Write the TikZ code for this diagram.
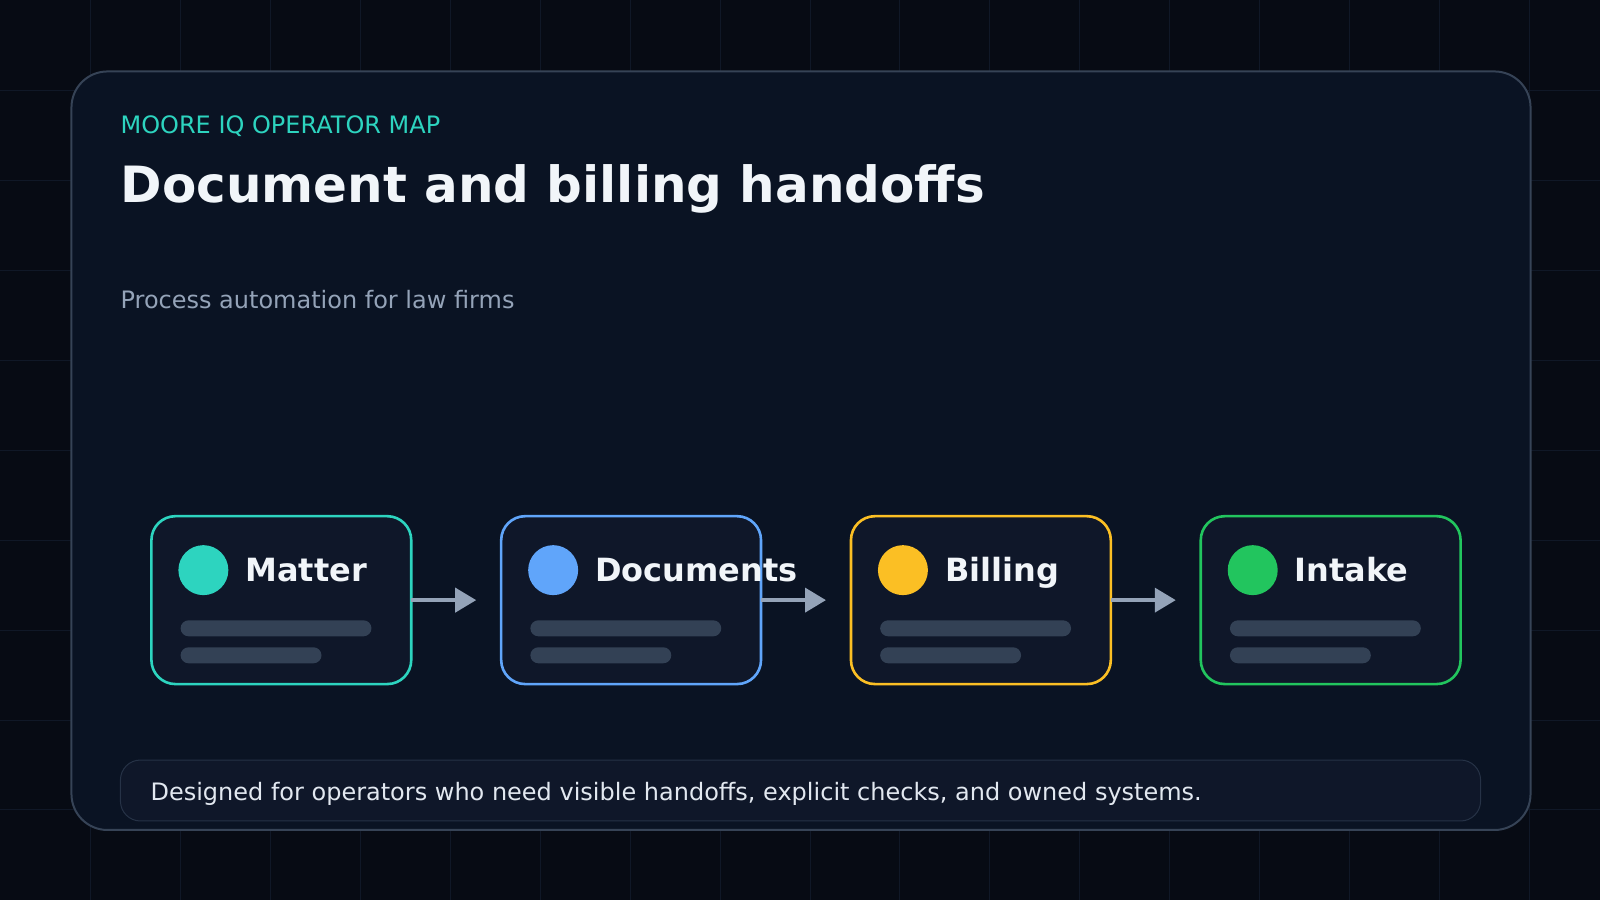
\documentclass[tikz,border=0pt]{standalone}
\usepackage{fontspec}
\setmainfont{DejaVu Sans}
\usetikzlibrary{positioning, calc, arrows.meta}
\definecolor{pagebg}{HTML}{070B14}
\definecolor{gridln}{HTML}{101827}
\definecolor{cardbg}{HTML}{0A1323}
\definecolor{cardln}{HTML}{364356}
\definecolor{stepbg}{HTML}{0F1729}
\definecolor{barfill}{HTML}{334155}
\definecolor{flowln}{HTML}{94A3B8}
\definecolor{notebg}{HTML}{0F1729}
\definecolor{noteln}{HTML}{263246}
\definecolor{titletx}{HTML}{F1F5F9}
\definecolor{notetx}{HTML}{E2E8F0}
\definecolor{subtx}{HTML}{94A3B8}
\definecolor{cteal}{HTML}{2DD4BF}
\definecolor{cblue}{HTML}{60A5FA}
\definecolor{camber}{HTML}{FBBF24}
\definecolor{cgreen}{HTML}{22C55E}
\newcommand{\fsz}[1]{\fontsize{#1}{#1}\selectfont}

\begin{document}
\begin{tikzpicture}[
		x=1pt, y=-1pt,
		stepbox/.style = {rectangle, rounded corners=24pt, line width=2.6pt, draw=#1, fill=stepbg, minimum width=260pt, minimum height=168pt, inner sep=0pt, outer sep=0pt},
		dot/.style = {circle, fill=#1, minimum size=50pt, inner sep=0pt},
		steplabel/.style = {anchor=base west, inner sep=0pt, text=titletx, font=\fsz{32}\bfseries},
		bar/.style = {rectangle, rounded corners=8pt, fill=barfill, minimum height=16pt, inner sep=0pt, anchor=north west},
		flow/.style = {line width=4pt, draw=flowln, -{Triangle[length=21pt, width=24pt]}, shorten >=25pt},
		gridline/.style = {line width=1pt, draw=gridln},
	]
	% page and grid
	\fill[pagebg] (0,0) rectangle (1600,900);
	\foreach \gx in {90,180,...,1530}
		\draw[gridline] (\gx,0) -- (\gx,900);
	\foreach \gy in {90,180,...,810}
		\draw[gridline] (0,\gy) -- (1600,\gy);
	\useasboundingbox (0,0) rectangle (1600,900);

	% outer card
	\node[rectangle, rounded corners=36pt, line width=2pt, draw=cardln, fill=cardbg, minimum width=1460pt, minimum height=759pt, inner sep=0pt] (card) at (801,450.5) {};

	% header
	\node[anchor=base west, inner sep=0pt, text=cteal, font=\fsz{24}] (kicker) at (120,133) {MOORE IQ OPERATOR MAP};
	\node[anchor=base west, inner sep=0pt, text=titletx, font=\fsz{50}\bfseries] (title) at (120,202) {Document and billing handoffs};
	\node[anchor=base west, inner sep=0pt, text=subtx, font=\fsz{24}] (subtitle) at (120,308) {Process automation for law firms};

	% steps
	\node[stepbox=cteal] (matter) at (281,600) {};
	\node[dot=cteal] (matterdot) at (203,570) {};
	\node[steplabel] (matterlabel) at (245,581) {Matter};
	\node[bar, minimum width=191pt] (matterbara) at (180,620) {};
	\node[bar, minimum width=141pt] (matterbarb) at (180,647) {};

	\node[stepbox=cblue] (documents) at (631,600) {};
	\node[dot=cblue] (documentsdot) at (553,570) {};
	\node[steplabel] (documentslabel) at (595,581) {Documents};
	\node[bar, minimum width=191pt] (documentsbara) at (530,620) {};
	\node[bar, minimum width=141pt] (documentsbarb) at (530,647) {};

	\node[stepbox=camber] (billing) at (981,600) {};
	\node[dot=camber] (billingdot) at (903,570) {};
	\node[steplabel] (billinglabel) at (945,581) {Billing};
	\node[bar, minimum width=191pt] (billingbara) at (880,620) {};
	\node[bar, minimum width=141pt] (billingbarb) at (880,647) {};

	\node[stepbox=cgreen] (intake) at (1331,600) {};
	\node[dot=cgreen] (intakedot) at (1253,570) {};
	\node[steplabel] (intakelabel) at (1295,581) {Intake};
	\node[bar, minimum width=191pt] (intakebara) at (1230,620) {};
	\node[bar, minimum width=141pt] (intakebarb) at (1230,647) {};

	\draw[flow] (matter) -- (documents);
	\draw[flow] (documents) -- (billing);
	\draw[flow] (billing) -- (intake);

	% footer note
	\node[rectangle, rounded corners=20pt, line width=1pt, draw=noteln, fill=notebg, minimum width=1361pt, minimum height=61pt, inner sep=0pt] (note) at (800.5,790.5) {};
	\node[anchor=base west, inner sep=0pt, text=notetx, font=\fsz{24}] (notetext) at (150,800) {Designed for operators who need visible handoffs, explicit checks, and owned systems.};

\end{tikzpicture}
\end{document}
